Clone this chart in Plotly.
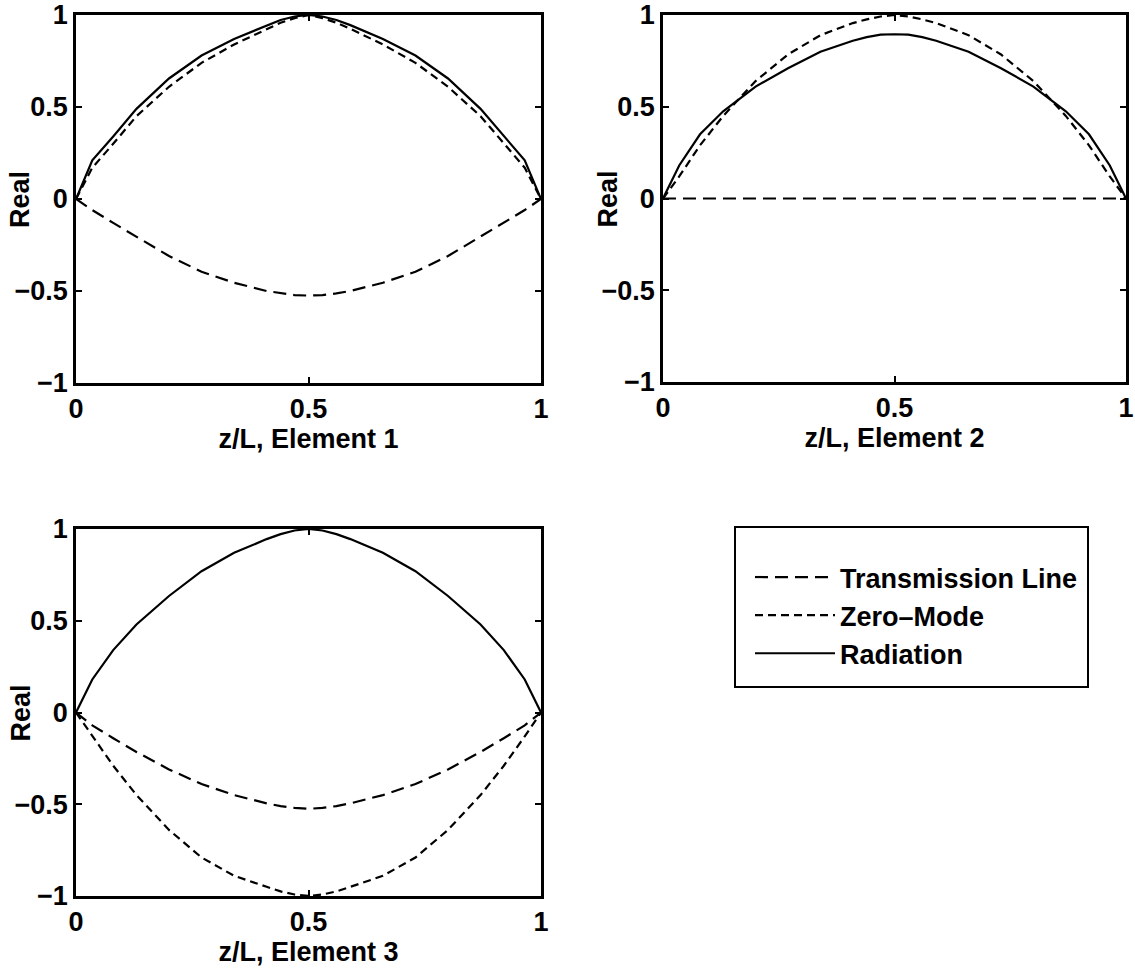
import plotly.graph_objects as go

# Normalised position along each element
z = [0, 0.035, 0.08, 0.13, 0.2, 0.27, 0.34, 0.41, 0.44, 0.47, 0.5,
     0.53, 0.56, 0.59, 0.66, 0.73, 0.8, 0.87, 0.92, 0.965, 1]

# Element 1 current distributions (real part)
e1_transmission = [0, -0.06, -0.13, -0.205, -0.31, -0.395, -0.455, -0.5, -0.513, -0.522, -0.525,
                   -0.522, -0.513, -0.5, -0.455, -0.395, -0.31, -0.205, -0.13, -0.06, 0]
e1_zero_mode = [0, 0.17, 0.3, 0.45, 0.61, 0.74, 0.84, 0.925, 0.958, 0.983, 1.0,
                0.983, 0.958, 0.925, 0.84, 0.74, 0.61, 0.45, 0.3, 0.17, 0]
e1_radiation = [0, 0.21, 0.34, 0.49, 0.655, 0.78, 0.87, 0.945, 0.973, 0.992, 1.0,
                0.992, 0.973, 0.945, 0.87, 0.78, 0.655, 0.49, 0.34, 0.21, 0]

# Element 2
e2_transmission = [0] * 21
e2_zero_mode = [0, 0.12, 0.29, 0.45, 0.64, 0.785, 0.89, 0.956, 0.976, 0.992, 1.0,
                0.992, 0.976, 0.956, 0.89, 0.785, 0.64, 0.45, 0.29, 0.12, 0]
e2_radiation = [0, 0.18, 0.35, 0.475, 0.61, 0.71, 0.8, 0.86, 0.879, 0.893, 0.895,
                0.893, 0.879, 0.86, 0.8, 0.71, 0.61, 0.475, 0.35, 0.18, 0]

# Element 3
e3_transmission = [0, -0.07, -0.14, -0.215, -0.31, -0.39, -0.45, -0.495, -0.51, -0.52, -0.525,
                   -0.52, -0.51, -0.495, -0.45, -0.39, -0.31, -0.215, -0.14, -0.07, 0]
e3_zero_mode = [0, -0.13, -0.29, -0.45, -0.64, -0.79, -0.89, -0.95, -0.975, -0.992, -1.0,
                -0.992, -0.975, -0.95, -0.89, -0.79, -0.64, -0.45, -0.29, -0.13, 0]
e3_radiation = [0, 0.18, 0.34, 0.48, 0.635, 0.77, 0.87, 0.945, 0.972, 0.992, 1.0,
                0.992, 0.972, 0.945, 0.87, 0.77, 0.635, 0.48, 0.34, 0.18, 0]

series_names = ["Transmission Line", "Zero\u2013Mode", "Radiation"]
x_titles = ["z/L, Element 1", "z/L, Element 2", "z/L, Element 3"]
y_ticks = [-1, -0.5, 0, 0.5, 1]
y_tick_text = ["\u22121", "\u22120.5", "0", "0.5", "1"]
x_ticks = [0, 0.5, 1]
x_tick_text = ["0", "0.5", "1"]

elements = [
    (e1_transmission, e1_zero_mode, e1_radiation),
    (e2_transmission, e2_zero_mode, e2_radiation),
    (e3_transmission, e3_zero_mode, e3_radiation),
]

W, H = 1135, 972
FS = 27
text_font = dict(family="Liberation Sans, Arial, sans-serif", size=FS,
                 color="black", weight="bold")

dash_styles = ["13px,7px", "8px,5px", "solid"]

fig = go.Figure()

for i, curves in enumerate(elements):
    axis_suffix = "" if i == 0 else str(i + 1)
    for j, values in enumerate(curves):
        fig.add_trace(go.Scatter(
            x=z, y=values, mode="lines",
            name=series_names[j],
            line=dict(color="black", width=2.2, dash=dash_styles[j]),
            showlegend=(i == 0),
            legendrank=j + 1,
            xaxis="x" + axis_suffix, yaxis="y" + axis_suffix,
        ))

# Panel placement in pixels: (left, right, top, bottom)
panels = [(76, 541, 15, 383), (663, 1126, 15, 382), (76, 541, 529, 896)]

# Legend frame in pixels: (left, right, top, bottom)
legend_box = (735, 1088, 527, 687)

axis_common = dict(
    showline=True, linecolor="black", linewidth=2.5, mirror="ticks",
    ticks="inside", ticklen=6, tickwidth=2, tickcolor="black",
    showgrid=False, zeroline=False, automargin=False,
    ticklabeloverflow="allow",
    tickfont=text_font,
)

bl, br, bt, bb = legend_box
layout = dict(
    width=W, height=H,
    margin=dict(l=0, r=0, t=0, b=0, autoexpand=False),
    paper_bgcolor="white", plot_bgcolor="white",
    font=text_font,
    showlegend=True,
    legend=dict(
        x=(bl + 15) / W, y=1 - (bt + 26) / H, xanchor="left", yanchor="top",
        borderwidth=0, bgcolor="rgba(0,0,0,0)",
        font=text_font, itemwidth=80, tracegroupgap=6,
    ),
    shapes=[dict(
        type="rect", xref="paper", yref="paper",
        x0=bl / W, x1=br / W, y0=1 - bb / H, y1=1 - bt / H,
        line=dict(color="black", width=2), fillcolor="rgba(0,0,0,0)",
        layer="below",
    )],
    annotations=[],
)

for i, (l, r, t, b) in enumerate(panels):
    suffix = "" if i == 0 else str(i + 1)
    layout["xaxis" + suffix] = dict(
        axis_common,
        domain=[l / W, r / W], range=[0, 1],
        tickvals=x_ticks, ticktext=x_tick_text,
        anchor="y" + suffix,
        title=dict(text=x_titles[i], standoff=4, font=text_font),
    )
    layout["yaxis" + suffix] = dict(
        axis_common,
        domain=[1 - b / H, 1 - t / H], range=[-1, 1],
        tickvals=y_ticks, ticktext=y_tick_text,
        anchor="x" + suffix,
    )
    layout["annotations"].append(dict(
        text="Real", textangle=-90, showarrow=False,
        xref="paper", yref="paper",
        x=(l - 56) / W, y=1 - ((t + b) / 2 + 1) / H,
        xanchor="center", yanchor="middle",
        font=text_font,
    ))

fig.update_layout(**layout)
fig.write_html("out.html")
